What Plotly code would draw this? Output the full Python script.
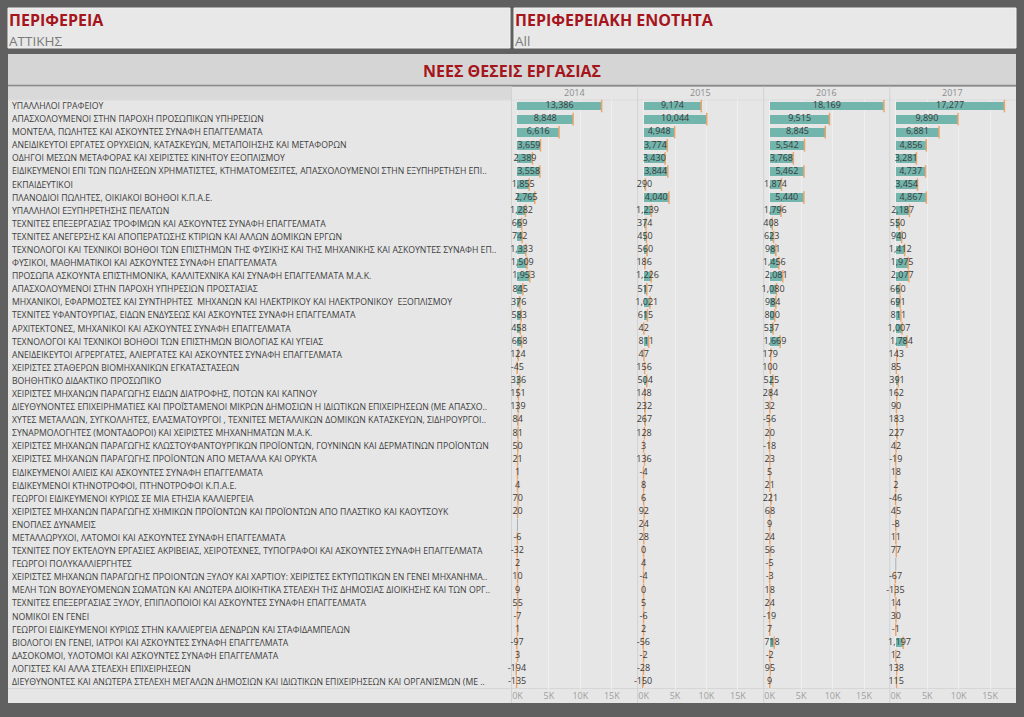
import plotly.graph_objects as go

W, H = 1024, 717

years = ["2014", "2015", "2016", "2017"]
categories = [
    "ΥΠΑΛΛΗΛΟΙ ΓΡΑΦΕΙΟΥ",
    "ΑΠΑΣΧΟΛΟΥΜΕΝΟΙ ΣΤΗΝ ΠΑΡΟΧΗ ΠΡΟΣΩΠΙΚΩΝ ΥΠΗΡΕΣΙΩΝ",
    "ΜΟΝΤΕΛΑ, ΠΩΛΗΤΕΣ ΚΑΙ ΑΣΚΟΥΝΤΕΣ ΣΥΝΑΦΗ ΕΠΑΓΓΕΛΜΑΤΑ",
    "ΑΝΕΙΔΙΚΕΥΤΟΙ ΕΡΓΑΤΕΣ ΟΡΥΧΕΙΩΝ, ΚΑΤΑΣΚΕΥΩΝ, ΜΕΤΑΠΟΙΗΣΗΣ ΚΑΙ ΜΕΤΑΦΟΡΩΝ",
    "ΟΔΗΓΟΙ ΜΕΣΩΝ ΜΕΤΑΦΟΡΑΣ ΚΑΙ ΧΕΙΡΙΣΤΕΣ ΚΙΝΗΤΟΥ ΕΞΟΠΛΙΣΜΟΥ",
    "ΕΙΔΙΚΕΥΜΕΝΟΙ ΕΠΙ ΤΩΝ ΠΩΛΗΣΕΩΝ ΧΡΗΜΑΤΙΣΤΕΣ, ΚΤΗΜΑΤΟΜΕΣΙΤΕΣ, ΑΠΑΣΧΟΛΟΥΜΕΝΟΙ ΣΤΗΝ ΕΞΥΠΗΡΕΤΗΣΗ ΕΠΙ..",
    "ΕΚΠΑΙΔΕΥΤΙΚΟΙ",
    "ΠΛΑΝΟΔΙΟΙ ΠΩΛΗΤΕΣ, ΟΙΚΙΑΚΟΙ ΒΟΗΘΟΙ Κ.Π.Α.Ε.",
    "ΥΠΑΛΛΗΛΟΙ ΕΞΥΠΗΡΕΤΗΣΗΣ ΠΕΛΑΤΩΝ",
    "ΤΕΧΝΙΤΕΣ ΕΠΕΞΕΡΓΑΣΙΑΣ ΤΡΟΦΙΜΩΝ ΚΑΙ ΑΣΚΟΥΝΤΕΣ ΣΥΝΑΦΗ ΕΠΑΓΓΕΛΜΑΤΑ",
    "ΤΕΧΝΙΤΕΣ ΑΝΕΓΕΡΣΗΣ ΚΑΙ ΑΠΟΠΕΡΑΤΩΣΗΣ ΚΤΙΡΙΩΝ ΚΑΙ ΑΛΛΩΝ ΔΟΜΙΚΩΝ ΕΡΓΩΝ",
    "ΤΕΧΝΟΛΟΓΟΙ ΚΑΙ ΤΕΧΝΙΚΟΙ ΒΟΗΘΟΙ ΤΩΝ ΕΠΙΣΤΗΜΩΝ ΤΗΣ ΦΥΣΙΚΗΣ ΚΑΙ ΤΗΣ ΜΗΧΑΝΙΚΗΣ ΚΑΙ ΑΣΚΟΥΝΤΕΣ ΣΥΝΑΦΗ ΕΠ..",
    "ΦΥΣΙΚΟΙ, ΜΑΘΗΜΑΤΙΚΟΙ ΚΑΙ ΑΣΚΟΥΝΤΕΣ ΣΥΝΑΦΗ ΕΠΑΓΓΕΛΜΑΤΑ",
    "ΠΡΟΣΩΠΑ ΑΣΚΟΥΝΤΑ ΕΠΙΣΤΗΜΟΝΙΚΑ, ΚΑΛΛΙΤΕΧΝΙΚΑ ΚΑΙ ΣΥΝΑΦΗ ΕΠΑΓΓΕΛΜΑΤΑ Μ.Α.Κ.",
    "ΑΠΑΣΧΟΛΟΥΜΕΝΟΙ ΣΤΗΝ ΠΑΡΟΧΗ ΥΠΗΡΕΣΙΩΝ ΠΡΟΣΤΑΣΙΑΣ",
    "ΜΗΧΑΝΙΚΟΙ, ΕΦΑΡΜΟΣΤΕΣ ΚΑΙ ΣΥΝΤΗΡΗΤΕΣ  ΜΗΧΑΝΩΝ ΚΑΙ ΗΛΕΚΤΡΙΚΟΥ ΚΑΙ ΗΛΕΚΤΡΟΝΙΚΟΥ  ΕΞΟΠΛΙΣΜΟΥ",
    "ΤΕΧΝΙΤΕΣ ΥΦΑΝΤΟΥΡΓΙΑΣ, ΕΙΔΩΝ ΕΝΔΥΣΕΩΣ ΚΑΙ ΑΣΚΟΥΝΤΕΣ ΣΥΝΑΦΗ ΕΠΑΓΓΕΛΜΑΤΑ",
    "ΑΡΧΙΤΕΚΤΟΝΕΣ, ΜΗΧΑΝΙΚΟΙ ΚΑΙ ΑΣΚΟΥΝΤΕΣ ΣΥΝΑΦΗ ΕΠΑΓΓΕΛΜΑΤΑ",
    "ΤΕΧΝΟΛΟΓΟΙ ΚΑΙ ΤΕΧΝΙΚΟΙ ΒΟΗΘΟΙ ΤΩΝ ΕΠΙΣΤΗΜΩΝ ΒΙΟΛΟΓΙΑΣ ΚΑΙ ΥΓΕΙΑΣ",
    "ΑΝΕΙΔΕΙΚΕΥΤΟΙ ΑΓΡΕΡΓΑΤΕΣ, ΑΛΙΕΡΓΑΤΕΣ ΚΑΙ ΑΣΚΟΥΝΤΕΣ ΣΥΝΑΦΗ ΕΠΑΓΓΕΛΜΑΤΑ",
    "ΧΕΙΡΙΣΤΕΣ ΣΤΑΘΕΡΩΝ ΒΙΟΜΗΧΑΝΙΚΩΝ ΕΓΚΑΤΑΣΤΑΣΕΩΝ",
    "ΒΟΗΘΗΤΙΚΟ ΔΙΔΑΚΤΙΚΟ ΠΡΟΣΩΠΙΚΟ",
    "ΧΕΙΡΙΣΤΕΣ ΜΗΧΑΝΩΝ ΠΑΡΑΓΩΓΗΣ ΕΙΔΩΝ ΔΙΑΤΡΟΦΗΣ, ΠΟΤΩΝ ΚΑΙ ΚΑΠΝΟΥ",
    "ΔΙΕΥΘΥΝΟΝΤΕΣ ΕΠΙΧΕΙΡΗΜΑΤΙΕΣ ΚΑΙ ΠΡΟΪΣΤΑΜΕΝΟΙ ΜΙΚΡΩΝ ΔΗΜΟΣΙΩΝ Η ΙΔΙΩΤΙΚΩΝ ΕΠΙΧΕΙΡΗΣΕΩΝ (ΜΕ ΑΠΑΣΧΟ..",
    "ΧΥΤΕΣ ΜΕΤΑΛΛΩΝ, ΣΥΓΚΟΛΛΗΤΕΣ, ΕΛΑΣΜΑΤΟΥΡΓΟΙ , ΤΕΧΝΙΤΕΣ ΜΕΤΑΛΛΙΚΩΝ ΔΟΜΙΚΩΝ ΚΑΤΑΣΚΕΥΩΝ, ΣΙΔΗΡΟΥΡΓΟΙ..",
    "ΣΥΝΑΡΜΟΛΟΓΗΤΕΣ (ΜΟΝΤΑΔΟΡΟΙ) ΚΑΙ ΧΕΙΡΙΣΤΕΣ ΜΗΧΑΝΗΜΑΤΩΝ Μ.Α.Κ.",
    "ΧΕΙΡΙΣΤΕΣ ΜΗΧΑΝΩΝ ΠΑΡΑΓΩΓΗΣ ΚΛΩΣΤΟΥΦΑΝΤΟΥΡΓΙΚΩΝ ΠΡΟΪΟΝΤΩΝ, ΓΟΥΝΙΝΩΝ ΚΑΙ ΔΕΡΜΑΤΙΝΩΝ ΠΡΟΪΟΝΤΩΝ",
    "ΧΕΙΡΙΣΤΕΣ ΜΗΧΑΝΩΝ ΠΑΡΑΓΩΓΗΣ ΠΡΟΪΟΝΤΩΝ ΑΠΟ ΜΕΤΑΛΛΑ ΚΑΙ ΟΡΥΚΤΑ",
    "ΕΙΔΙΚΕΥΜΕΝΟΙ ΑΛΙΕΙΣ ΚΑΙ ΑΣΚΟΥΝΤΕΣ ΣΥΝΑΦΗ ΕΠΑΓΓΕΛΜΑΤΑ",
    "ΕΙΔΙΚΕΥΜΕΝΟΙ ΚΤΗΝΟΤΡΟΦΟΙ, ΠΤΗΝΟΤΡΟΦΟΙ Κ.Π.Α.Ε.",
    "ΓΕΩΡΓΟΙ ΕΙΔΙΚΕΥΜΕΝΟΙ ΚΥΡΙΩΣ ΣΕ ΜΙΑ ΕΤΗΣΙΑ ΚΑΛΛΙΕΡΓΕΙΑ",
    "ΧΕΙΡΙΣΤΕΣ ΜΗΧΑΝΩΝ ΠΑΡΑΓΩΓΗΣ ΧΗΜΙΚΩΝ ΠΡΟΪΟΝΤΩΝ ΚΑΙ ΠΡΟΪΟΝΤΩΝ ΑΠΟ ΠΛΑΣΤΙΚΟ ΚΑΙ ΚΑΟΥΤΣΟΥΚ",
    "ΕΝΟΠΛΕΣ ΔΥΝΑΜΕΙΣ",
    "ΜΕΤΑΛΛΩΡΥΧΟΙ, ΛΑΤΟΜΟΙ ΚΑΙ ΑΣΚΟΥΝΤΕΣ ΣΥΝΑΦΗ ΕΠΑΓΓΕΛΜΑΤΑ",
    "ΤΕΧΝΙΤΕΣ ΠΟΥ ΕΚΤΕΛΟΥΝ ΕΡΓΑΣΙΕΣ ΑΚΡΙΒΕΙΑΣ, ΧΕΙΡΟΤΕΧΝΕΣ, ΤΥΠΟΓΡΑΦΟΙ ΚΑΙ ΑΣΚΟΥΝΤΕΣ ΣΥΝΑΦΗ ΕΠΑΓΓΕΛΜΑΤΑ",
    "ΓΕΩΡΓΟΙ ΠΟΛΥΚΑΛΛΙΕΡΓΗΤΕΣ",
    "ΧΕΙΡΙΣΤΕΣ ΜΗΧΑΝΩΝ ΠΑΡΑΓΩΓΗΣ ΠΡΟΙΟΝΤΩΝ ΞΥΛΟΥ ΚΑΙ ΧΑΡΤΙΟΥ: ΧΕΙΡΙΣΤΕΣ ΕΚΤΥΠΩΤΙΚΩΝ ΕΝ ΓΕΝΕΙ ΜΗΧΑΝΗΜΑ..",
    "ΜΕΛΗ ΤΩΝ ΒΟΥΛΕΥΟΜΕΝΩΝ ΣΩΜΑΤΩΝ ΚΑΙ ΑΝΩΤΕΡΑ ΔΙΟΙΚΗΤΙΚΑ ΣΤΕΛΕΧΗ ΤΗΣ ΔΗΜΟΣΙΑΣ ΔΙΟΙΚΗΣΗΣ ΚΑΙ ΤΩΝ ΟΡΓ..",
    "ΤΕΧΝΙΤΕΣ ΕΠΕΞΕΡΓΑΣΙΑΣ ΞΥΛΟΥ, ΕΠΙΠΛΟΠΟΙΟΙ ΚΑΙ ΑΣΚΟΥΝΤΕΣ ΣΥΝΑΦΗ ΕΠΑΓΓΕΛΜΑΤΑ",
    "ΝΟΜΙΚΟΙ ΕΝ ΓΕΝΕΙ",
    "ΓΕΩΡΓΟΙ ΕΙΔΙΚΕΥΜΕΝΟΙ ΚΥΡΙΩΣ ΣΤΗΝ ΚΑΛΛΙΕΡΓΕΙΑ ΔΕΝΔΡΩΝ ΚΑΙ ΣΤΑΦΙΔΑΜΠΕΛΩΝ",
    "ΒΙΟΛΟΓΟΙ ΕΝ ΓΕΝΕΙ, ΙΑΤΡΟΙ ΚΑΙ ΑΣΚΟΥΝΤΕΣ ΣΥΝΑΦΗ ΕΠΑΓΓΕΛΜΑΤΑ",
    "ΔΑΣΟΚΟΜΟΙ, ΥΛΟΤΟΜΟΙ ΚΑΙ ΑΣΚΟΥΝΤΕΣ ΣΥΝΑΦΗ ΕΠΑΓΓΕΛΜΑΤΑ",
    "ΛΟΓΙΣΤΕΣ ΚΑΙ ΑΛΛΑ ΣΤΕΛΕΧΗ ΕΠΙΧΕΙΡΗΣΕΩΝ",
    "ΔΙΕΥΘΥΝΟΝΤΕΣ ΚΑΙ ΑΝΩΤΕΡΑ ΣΤΕΛΕΧΗ ΜΕΓΑΛΩΝ ΔΗΜΟΣΙΩΝ ΚΑΙ ΙΔΙΩΤΙΚΩΝ ΕΠΙΧΕΙΡΗΣΕΩΝ ΚΑΙ ΟΡΓΑΝΙΣΜΩΝ (ΜΕ ..",
]

values_2014 = [13386, 8848, 6616, 3659, 2389, 3558, 1855, 2765, 1282, 669, 742, 1333, 1509, 1953, 845,
               376, 583, 458, 668, 124, -45, 336, 151, 139, 84, 81, 50, 21, 1, 4, 70, 20, None, -6, -32,
               2, 10, 9, 55, -7, 1, -97, 3, -194, -135]
values_2015 = [9174, 10044, 4948, 3774, 3430, 3844, 290, 4040, 1239, 374, 450, 560, 186, 1226, 517,
               1021, 615, 42, 811, 47, 156, 504, 148, 232, 267, 128, 3, 136, -4, 8, 6, 92, 24, 28, 0,
               4, -4, 0, 5, -6, 2, -56, -2, -28, -150]
values_2016 = [18169, 9515, 8845, 5542, 3768, 5462, 1874, 5440, 1796, 408, 623, 981, 1456, 2081, 1080,
               984, 800, 537, 1669, 179, 100, 525, 284, 32, -56, 20, -18, 23, 5, 21, 221, 68, 9, 24, 56,
               -5, -3, 18, 24, -19, 7, 718, -2, 95, 9]
values_2017 = [17277, 9890, 6881, 4856, 3281, 4737, 3454, 4867, 2187, 550, 940, 1412, 1975, 2077, 660,
               691, 811, 1007, 1784, 143, 85, 391, 162, 90, 183, 227, 42, -19, 18, 2, -46, 45, -8, 11, 77,
               None, -67, -135, 14, 30, -1, 1197, 12, 138, 115]
series = [values_2014, values_2015, values_2016, values_2017]

tick_vals = [0, 5000, 10000, 15000]
tick_text = ["0K", "5K", "10K", "15K"]

# ---------- styling ----------
BG_DARK = "#606060"
PANEL_BG = "#e6e6e6"
TEAL = "#72b5ad"
ORANGE = "#eba56c"
RED = "#a5161c"
FONT = "Open Sans"


def px(x):
    return x / W


def py(y):
    return 1 - y / H


PANEL_LEFT = 511.5
PANEL_W = 126.1
ROW_TOP, ROW_BOT = 99.5, 688.5
n = len(categories)

fig = go.Figure()

for k, vals in enumerate(series):
    xa = "x" if k == 0 else f"x{k+1}"
    ys = [i for i, v in enumerate(vals) if v is not None]
    xs = [v for v in vals if v is not None]
    fig.add_trace(go.Bar(
        x=xs, y=ys, orientation="h", xaxis=xa, yaxis="y",
        marker=dict(color=TEAL, line=dict(width=0)), width=0.68,
        hoverinfo="skip", showlegend=False))
    # end tick marks
    fig.add_trace(go.Scatter(
        x=xs, y=ys, mode="markers", xaxis=xa, yaxis="y",
        marker=dict(symbol="line-ns", size=9, line=dict(color=ORANGE, width=1.5)),
        hoverinfo="skip", showlegend=False, cliponaxis=False))
    # missing-value marks
    ys_na = [i for i, v in enumerate(vals) if v is None]
    if ys_na:
        fig.add_trace(go.Scatter(
            x=[0] * len(ys_na), y=ys_na, mode="markers", xaxis=xa, yaxis="y",
            marker=dict(symbol="line-ns", size=9, line=dict(color="#9fb0c0", width=1)),
            hoverinfo="skip", showlegend=False, cliponaxis=False))
    # value labels, centred on each bar
    fig.add_trace(go.Scatter(
        x=[v / 2 for v in xs], y=ys, mode="text", xaxis=xa, yaxis="y",
        text=[f"{v:,}" for v in xs], textposition="middle center",
        textfont=dict(family=FONT, size=9, color="#3a3a3a"),
        hoverinfo="skip", showlegend=False, cliponaxis=False))

layout = dict(
    width=W, height=H,
    margin=dict(l=0, r=0, t=0, b=0),
    paper_bgcolor=BG_DARK, plot_bgcolor="rgba(0,0,0,0)",
    bargap=0, barmode="overlay",
    font=dict(family=FONT),
    yaxis=dict(domain=[py(ROW_BOT), py(ROW_TOP)], range=[n - 0.5, -0.5],
               visible=False, anchor="x", fixedrange=True),
)
for k in range(4):
    key = "xaxis" if k == 0 else f"xaxis{k+1}"
    x0 = PANEL_LEFT + PANEL_W * k
    layout[key] = dict(
        domain=[px(x0), px(x0 + PANEL_W)], range=[-950, 19100], anchor="y",
        tickvals=tick_vals, ticktext=tick_text, showgrid=True, gridcolor="#efefef",
        gridwidth=1, zeroline=False, showline=False, ticks="",
        tickfont=dict(family=FONT, size=9, color="#a0a0a0"), fixedrange=True)

shapes = []


def rect(x0, y0, x1, y1, fill, line=None, layer="below"):
    shapes.append(dict(type="rect", xref="paper", yref="paper",
                       x0=px(x0), x1=px(x1), y0=py(y1), y1=py(y0),
                       fillcolor=fill, line=dict(width=1 if line else 0, color=line or fill),
                       layer=layer))


def hline(x0, x1, y, color, width=1):
    shapes.append(dict(type="line", xref="paper", yref="paper", x0=px(x0), x1=px(x1),
                       y0=py(y), y1=py(y), line=dict(color=color, width=width), layer="below"))


def vline(x, y0, y1, color, width=1):
    shapes.append(dict(type="line", xref="paper", yref="paper", x0=px(x), x1=px(x),
                       y0=py(y0), y1=py(y1), line=dict(color=color, width=width), layer="below"))


# filter boxes
rect(8, 8, 510, 48, "#e8e8e8", "#f2f2f2")
rect(514, 8, 1016, 48, "#e8e8e8", "#f2f2f2")
# title band
rect(8, 54, 1016, 85, "#d5d5d5")
hline(8, 1016, 85.5, "#8a8a8a", 1.5)
# chart area
rect(8, 86.5, 1016, 703, PANEL_BG)
rect(8, 86.5, PANEL_LEFT, 100, "#d9d9d9")
hline(8, 1016, 100, "#dcdcdc")
hline(8, 1016, 688.5, "#d6d6d6")
for k in range(4):
    vline(PANEL_LEFT + PANEL_W * k, 86.5, 703, "#d2d2d2")

annotations = [
    dict(text="<b>ΠΕΡΙΦΕΡΕΙΑ</b>", x=px(7), y=py(20), xref="paper", yref="paper",
         xanchor="left", yanchor="middle", showarrow=False,
         font=dict(family=FONT, size=16, color=RED)),
    dict(text="ΑΤΤΙΚΗΣ", x=px(7), y=py(41), xref="paper", yref="paper",
         xanchor="left", yanchor="middle", showarrow=False,
         font=dict(family=FONT, size=13.5, color="#7a7a7a")),
    dict(text="<b>ΠΕΡΙΦΕΡΕΙΑΚΗ ΕΝΟΤΗΤΑ</b>", x=px(513), y=py(20), xref="paper", yref="paper",
         xanchor="left", yanchor="middle", showarrow=False,
         font=dict(family=FONT, size=16, color=RED)),
    dict(text="All", x=px(513), y=py(41), xref="paper", yref="paper",
         xanchor="left", yanchor="middle", showarrow=False,
         font=dict(family=FONT, size=13.5, color="#7a7a7a")),
    dict(text="<b>ΝΕΕΣ ΘΕΣΕΙΣ ΕΡΓΑΣΙΑΣ</b>", x=px(512), y=py(71), xref="paper", yref="paper",
         xanchor="center", yanchor="middle", showarrow=False,
         font=dict(family=FONT, size=16, color=RED)),
]
for k, yr in enumerate(years):
    annotations.append(dict(text=yr, x=px(PANEL_LEFT + PANEL_W * (k + 0.5)), y=py(93),
                            xref="paper", yref="paper", xanchor="center", yanchor="middle",
                            showarrow=False, font=dict(family=FONT, size=9, color="#8c8c8c")))
for i, c in enumerate(categories):
    annotations.append(dict(text=c, x=px(10), y=i, xref="paper", yref="y",
                            xanchor="left", yanchor="middle", showarrow=False,
                            font=dict(family=FONT, size=8.7, color="#404040")))

layout["shapes"] = shapes
layout["annotations"] = annotations
fig.update_layout(**layout)

fig.write_html("out.html", config={"displayModeBar": False, "staticPlot": True},
               post_script="document.body.style.margin='0';document.body.style.overflow='hidden';")
